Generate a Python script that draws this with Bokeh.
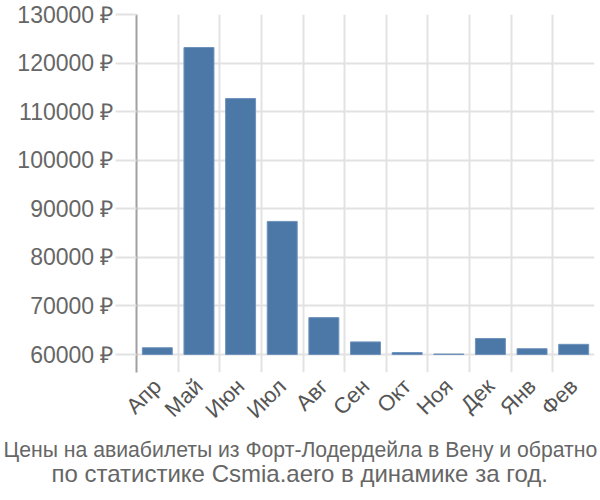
from bokeh.plotting import figure
from bokeh.models import Range1d, FixedTicker, PrintfTickFormatter, Title
from bokeh.embed import file_html
from bokeh.resources import INLINE
import math

months = ["Апр", "Май", "Июн", "Июл", "Авг", "Сен", "Окт", "Ноя", "Дек", "Янв", "Фев"]
prices = [61400, 123200, 112700, 87400, 67600, 62600, 60400, 60100, 63300, 61200, 62100]
y_ticks = [60000, 70000, 80000, 90000, 100000, 110000, 120000, 130000]
title_lines = ["Цены на авиабилеты из Форт-Лодердейла в Вену и обратно",
               "по статистике Csmia.aero в динамике за год."]

FONT = "Liberation Sans"
centers = [i + 0.5 for i in range(len(months))]

p = figure(width=600, height=500, output_backend="svg", toolbar_location=None,
           x_range=Range1d(0, len(months)), y_range=Range1d(56300, 130000),
           min_border_left=136, min_border_right=6, min_border_top=14, min_border_bottom=128)
p.outline_line_color = None

p.vbar(x=centers, top=prices, bottom=60000, width=0.72,
       fill_color="#4c78a8", line_color="#6f93bd", line_width=1)

# y axis
p.yaxis.ticker = FixedTicker(ticks=y_ticks)
p.yaxis.formatter = PrintfTickFormatter(format="%d ₽")
p.yaxis.major_label_text_font = FONT
p.yaxis.major_label_text_font_size = "23px"
p.yaxis.major_label_text_color = "#666666"
p.yaxis.axis_line_color = "#a0a0a0"
p.yaxis.axis_line_width = 2
p.yaxis.major_tick_in = 0
p.yaxis.major_tick_out = 21
p.yaxis.major_tick_line_color = "#e2e2e2"
p.yaxis.major_tick_line_width = 2
p.yaxis.minor_tick_line_color = None
p.yaxis.major_label_standoff = 2

# x axis
p.xaxis.ticker = FixedTicker(ticks=centers)
p.xaxis.major_label_overrides = {c: m for c, m in zip(centers, months)}
p.xaxis.major_label_orientation = math.pi / 4
p.xaxis.major_label_text_font = FONT
p.xaxis.major_label_text_font_size = "22px"
p.xaxis.major_label_text_color = "#555555"
p.xaxis.axis_line_color = None
p.xaxis.major_tick_line_color = None
p.xaxis.minor_tick_line_color = None
p.xaxis.major_label_standoff = 4

# grids
p.ygrid.ticker = FixedTicker(ticks=y_ticks)
p.ygrid.grid_line_color = "#e2e2e2"
p.ygrid.grid_line_width = 2
p.xgrid.ticker = FixedTicker(ticks=list(range(1, len(months) + 1)))
p.xgrid.grid_line_color = "#e2e2e2"
p.xgrid.grid_line_width = 2

title_specs = [(-133, "21.2px", 3), (-85, "24px", -9)]
for line, (off, size, sto) in zip(title_lines, title_specs):
    p.add_layout(Title(text=line, align="left", offset=off, standoff=sto,
                       text_font=FONT, text_font_size=size,
                       text_color="#666666", text_font_style="normal"), "below")

open("out.html", "w").write(file_html(p, INLINE))
